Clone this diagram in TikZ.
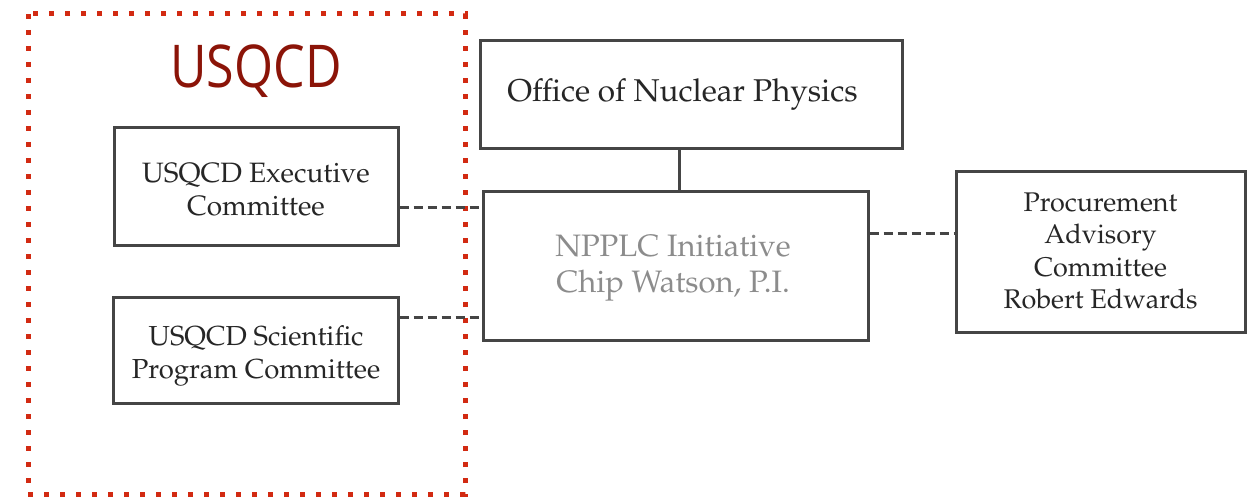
\documentclass[tikz,border=0pt]{standalone}
\usepackage[T1]{fontenc}
\usepackage{fontspec}
\newfontfamily\titlefont{Open Sans}
\newcommand\palfont{\fontencoding{T1}\fontfamily{ppl}\selectfont}
\definecolor{boxline}{HTML}{454545}
\definecolor{txt}{HTML}{262626}
\definecolor{graytxt}{HTML}{8C8C8C}
\definecolor{dotred}{HTML}{D22A12}
\definecolor{titlered}{HTML}{8B1408}
\tikzset{
  orgbox/.style={draw=boxline, line width=3pt, rectangle, inner sep=0pt},
  boxtext/.style={align=center, inner sep=0pt, text=txt},
  conn/.style={draw=boxline, line width=3pt, dash pattern=on 9pt off 5pt},
  solidconn/.style={draw=boxline, line width=3pt},
  groupframe/.style={draw=dotred, line width=5pt, dash pattern=on 5pt off 11pt}
}
\begin{document}
\begin{tikzpicture}[x=1pt,y=-1pt]
\useasboundingbox (0,0) rectangle (1247,497);
% dotted group frame
\draw[groupframe] (28,14) rectangle (465,494);
\node[text=titlered, inner sep=0pt] (title) at (256,71) {\scalebox{0.85}[1]{\titlefont\fontsize{59}{59}\selectfont USQCD}};
% boxes
\node[orgbox, minimum width=284pt, minimum height=117pt] (exec) at (256,186.5) {};
\node[orgbox, minimum width=285pt, minimum height=106pt] (sci) at (255.5,350) {};
\node[orgbox, minimum width=422pt, minimum height=108pt] (office) at (691,95) {};
\node[orgbox, minimum width=385pt, minimum height=148pt] (npplc) at (675.5,266) {};
\node[orgbox, minimum width=289pt, minimum height=160pt] (proc) at (1100.5,252) {};
% texts
\node[boxtext, font={\palfont\fontsize{28}{33}\selectfont}] (exec-t) at (256,190)
  {USQCD Executive\\Committee};
\node[boxtext, font={\palfont\fontsize{27.5}{33}\selectfont}] (sci-t) at (256,355.5)
  {USQCD Scientific\\Program Committee};
\node[boxtext, font={\palfont\fontsize{31.5}{36}\selectfont}] (office-t) at (682.5,95)
  {Office of Nuclear Physics};
\node[boxtext, text=graytxt, font={\palfont\fontsize{31}{36}\selectfont}] (npplc-t) at (673,268)
  {NPPLC Initiative\\Chip Watson, P.I.};
\node[boxtext, font={\palfont\fontsize{27}{32.3}\selectfont}] (proc-t) at (1100.5,251)
  {Procurement\\Advisory\\Committee\\Robert Edwards};
% connectors
\draw[solidconn] ([xshift=-12pt]office.south) coordinate (o1) -- (o1 |- npplc.north);
\draw[conn] ([yshift=-21.5pt]exec.east) coordinate (e1) -- (e1 -| npplc.west);
\draw[conn] ([yshift=33pt]sci.east) coordinate (s1) -- (s1 -| npplc.west);
\draw[conn] ([yshift=33pt]npplc.east) coordinate (n1) -- (n1 -| proc.west);
\end{tikzpicture}
\end{document}
